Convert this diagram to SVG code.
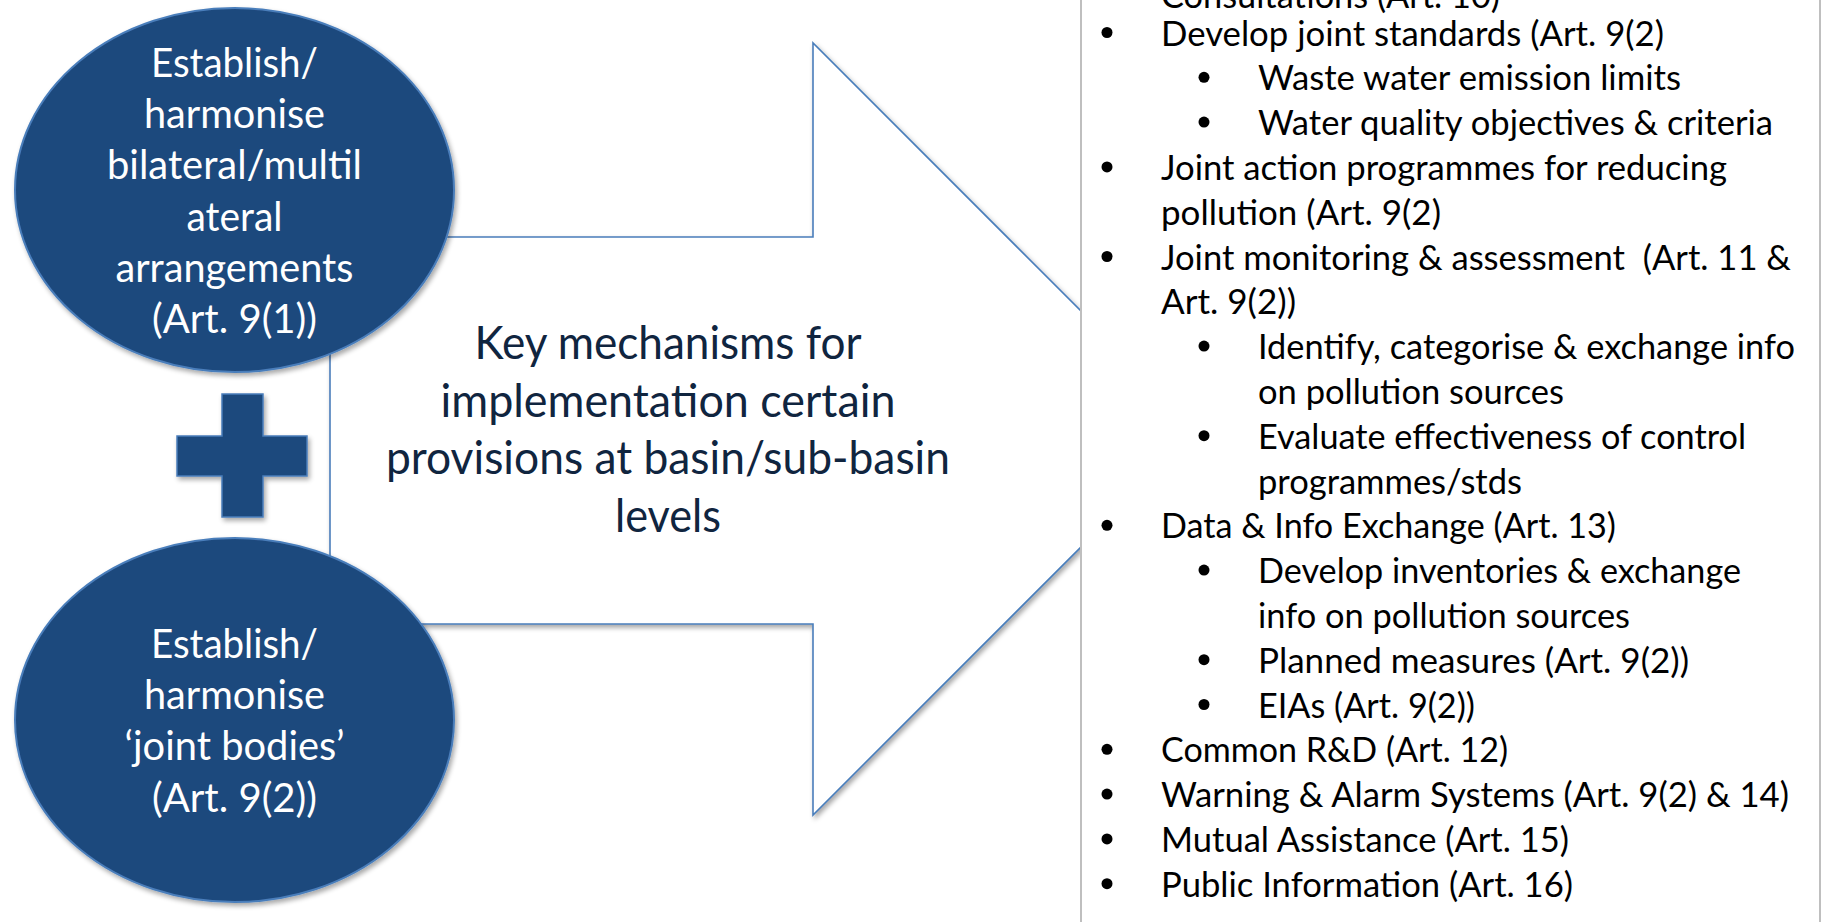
<svg xmlns="http://www.w3.org/2000/svg" width="1822" height="922" viewBox="0 0 1822 922">
  <defs>
    <filter id="soft-shadow" x="-10%" y="-10%" width="125%" height="125%">
      <feGaussianBlur in="SourceAlpha" stdDeviation="2.5"/>
      <feOffset dx="1.5" dy="3" result="off"/>
      <feComponentTransfer><feFuncA type="linear" slope="0.35"/></feComponentTransfer>
      <feMerge><feMergeNode/><feMergeNode in="SourceGraphic"/></feMerge>
    </filter>
    <style>
      .oval { fill: #1f497d; stroke: #4a7ebb; stroke-width: 2; }
      .oval-text { font-family: "Lato", "Open Sans", sans-serif; font-size: 41px; fill: #ffffff; text-anchor: middle; }
      .plus { fill: #1f497d; stroke: #4a7ebb; stroke-width: 1.5; }
      .block-arrow { fill: #ffffff; stroke: #4a7ebb; stroke-width: 1.6; stroke-linejoin: miter; }
      .mid-text { font-family: "Lato", "Open Sans", sans-serif; font-size: 47px; fill: #10253f; text-anchor: middle; }
      .panel { fill: #ffffff; stroke: #bfbfbf; stroke-width: 2; }
      .item { font-family: "Lato", "Open Sans", sans-serif; font-size: 35px; fill: #000000; }
      .dot { fill: #000000; }
    </style>
  </defs>

  <rect x="0" y="0" width="1822" height="922" fill="#ffffff"/>

  <!-- Block arrow pointing at the list panel -->
  <g id="connectors">
    <path class="block-arrow" filter="url(#soft-shadow)" d="M330,237 L813,237 L813,43 L1199,429 L813,815 L813,624 L330,624 Z"/>
  </g>

  <!-- Upper oval -->
  <g id="node-arrangements">
    <ellipse class="oval" filter="url(#soft-shadow)" cx="234.5" cy="190" rx="219.5" ry="182"/>
    <text class="oval-text" x="234.5" y="77" textLength="167" lengthAdjust="spacingAndGlyphs">Establish/</text>
    <text class="oval-text" x="234.5" y="128.2" textLength="181" lengthAdjust="spacingAndGlyphs">harmonise</text>
    <text class="oval-text" x="234.5" y="179.4" textLength="255" lengthAdjust="spacingAndGlyphs">bilateral/multil</text>
    <text class="oval-text" x="234.5" y="230.6" textLength="96" lengthAdjust="spacingAndGlyphs">ateral</text>
    <text class="oval-text" x="234.5" y="281.8" textLength="238" lengthAdjust="spacingAndGlyphs">arrangements</text>
    <text class="oval-text" x="234.5" y="333" textLength="165" lengthAdjust="spacingAndGlyphs">(Art. 9(1))</text>
  </g>

  <!-- Plus sign between the ovals -->
  <g id="node-plus">
    <path class="plus" filter="url(#soft-shadow)" d="M222,394 L263,394 L263,436 L307,436 L307,476 L263,476 L263,517 L222,517 L222,476 L177,476 L177,436 L222,436 Z"/>
  </g>

  <!-- Lower oval -->
  <g id="node-joint-bodies">
    <ellipse class="oval" filter="url(#soft-shadow)" cx="234.5" cy="720" rx="219.5" ry="182"/>
    <text class="oval-text" x="234.5" y="658" textLength="167" lengthAdjust="spacingAndGlyphs">Establish/</text>
    <text class="oval-text" x="234.5" y="709.2" textLength="181" lengthAdjust="spacingAndGlyphs">harmonise</text>
    <text class="oval-text" x="234.5" y="760.4" textLength="220" lengthAdjust="spacingAndGlyphs">‘joint bodies’</text>
    <text class="oval-text" x="234.5" y="811.6" textLength="165" lengthAdjust="spacingAndGlyphs">(Art. 9(2))</text>
  </g>

  <!-- Caption inside the arrow -->
  <g id="node-caption">
    <text class="mid-text" x="668" y="359" textLength="387" lengthAdjust="spacingAndGlyphs">Key mechanisms for</text>
    <text class="mid-text" x="668" y="416.7" textLength="455" lengthAdjust="spacingAndGlyphs">implementation certain</text>
    <text class="mid-text" x="668" y="474.4" textLength="564" lengthAdjust="spacingAndGlyphs">provisions at basin/sub-basin</text>
    <text class="mid-text" x="668" y="532" textLength="106" lengthAdjust="spacingAndGlyphs">levels</text>
  </g>

  <!-- Bulleted list panel -->
  <g id="node-list">
    <rect class="panel" x="1081" y="-10" width="739" height="950"/>
    <text class="item" x="1161" y="8" textLength="339" lengthAdjust="spacingAndGlyphs">Consultations (Art. 10)</text>

    <circle class="dot" cx="1107" cy="32.5" r="5.5"/>
    <text class="item" x="1161" y="45.5" textLength="503" lengthAdjust="spacingAndGlyphs">Develop joint standards (Art. 9(2)</text>
    <circle class="dot" cx="1204" cy="77.3" r="5.5"/>
    <text class="item" x="1258" y="90.3" textLength="423" lengthAdjust="spacingAndGlyphs">Waste water emission limits</text>
    <circle class="dot" cx="1204" cy="122.1" r="5.5"/>
    <text class="item" x="1258" y="135.1" textLength="515" lengthAdjust="spacingAndGlyphs">Water quality objectives &amp; criteria</text>

    <circle class="dot" cx="1107" cy="166.9" r="5.5"/>
    <text class="item" x="1161" y="179.9" textLength="566" lengthAdjust="spacingAndGlyphs">Joint action programmes for reducing</text>
    <text class="item" x="1161" y="224.7" textLength="280" lengthAdjust="spacingAndGlyphs">pollution (Art. 9(2)</text>

    <circle class="dot" cx="1107" cy="256.5" r="5.5"/>
    <text class="item" x="1161" y="269.5" textLength="630" lengthAdjust="spacingAndGlyphs" xml:space="preserve">Joint monitoring &amp; assessment  (Art. 11 &amp;</text>
    <text class="item" x="1161" y="314.3" textLength="135" lengthAdjust="spacingAndGlyphs">Art. 9(2))</text>
    <circle class="dot" cx="1204" cy="346.1" r="5.5"/>
    <text class="item" x="1258" y="359.1" textLength="537" lengthAdjust="spacingAndGlyphs">Identify, categorise &amp; exchange info</text>
    <text class="item" x="1258" y="403.9" textLength="306" lengthAdjust="spacingAndGlyphs">on pollution sources</text>
    <circle class="dot" cx="1204" cy="435.7" r="5.5"/>
    <text class="item" x="1258" y="448.7" textLength="488" lengthAdjust="spacingAndGlyphs">Evaluate effectiveness of control</text>
    <text class="item" x="1258" y="493.5" textLength="264" lengthAdjust="spacingAndGlyphs">programmes/stds</text>

    <circle class="dot" cx="1107" cy="525.3" r="5.5"/>
    <text class="item" x="1161" y="538.3" textLength="455" lengthAdjust="spacingAndGlyphs">Data &amp; Info Exchange (Art. 13)</text>
    <circle class="dot" cx="1204" cy="570.1" r="5.5"/>
    <text class="item" x="1258" y="583.1" textLength="483" lengthAdjust="spacingAndGlyphs">Develop inventories &amp; exchange</text>
    <text class="item" x="1258" y="627.9" textLength="372" lengthAdjust="spacingAndGlyphs">info on pollution sources</text>
    <circle class="dot" cx="1204" cy="659.7" r="5.5"/>
    <text class="item" x="1258" y="672.7" textLength="431" lengthAdjust="spacingAndGlyphs">Planned measures (Art. 9(2))</text>
    <circle class="dot" cx="1204" cy="704.5" r="5.5"/>
    <text class="item" x="1258" y="717.5" textLength="217" lengthAdjust="spacingAndGlyphs">EIAs (Art. 9(2))</text>

    <circle class="dot" cx="1107" cy="749.3" r="5.5"/>
    <text class="item" x="1161" y="762.3" textLength="347" lengthAdjust="spacingAndGlyphs">Common R&amp;D (Art. 12)</text>
    <circle class="dot" cx="1107" cy="794.1" r="5.5"/>
    <text class="item" x="1161" y="807.1" textLength="628" lengthAdjust="spacingAndGlyphs">Warning &amp; Alarm Systems (Art. 9(2) &amp; 14)</text>
    <circle class="dot" cx="1107" cy="838.9" r="5.5"/>
    <text class="item" x="1161" y="851.9" textLength="408" lengthAdjust="spacingAndGlyphs">Mutual Assistance (Art. 15)</text>
    <circle class="dot" cx="1107" cy="883.7" r="5.5"/>
    <text class="item" x="1161" y="896.7" textLength="412" lengthAdjust="spacingAndGlyphs">Public Information (Art. 16)</text>
  </g>
</svg>
